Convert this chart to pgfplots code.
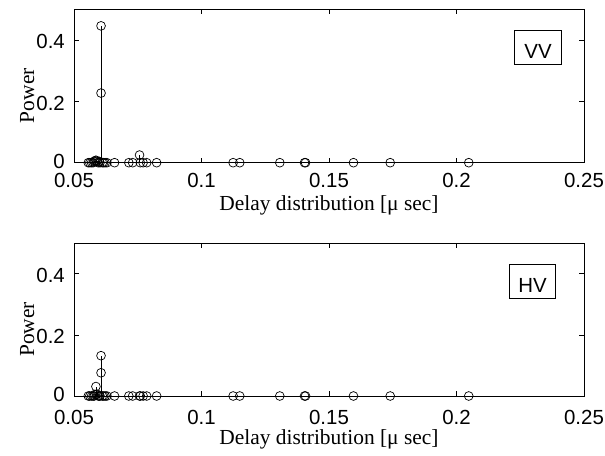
\documentclass[border=0pt]{standalone}
\usepackage{pgfplots}
\pgfplotsset{compat=1.18}
\usepackage{pgfplotstable}
\usepackage{fontspec}
\setmainfont{Liberation Serif}
\setsansfont{Liberation Sans}

% delay [mu s], power of the VV and HV channels
\pgfplotstableread{
x       vv      hv
0.0556  0       0
0.0562  0       0
0.0569  0       0
0.0575  0       0
0.0579  0.004   0
0.0582  0.006   0.005
0.0586  0.008   0.031
0.0590  0.005   0.006
0.0595  0       0
0.0599  0.004   0
0.0602  0       0
0.0606  0.227   0.076
0.0606  0.446   0.132
0.0611  0       0
0.0616  0       0
0.0622  0       0
0.0629  0       0
0.0659  0       0
0.0715  0       0
0.0730  0       0
0.0757  0.025   0
0.0760  0       0
0.0771  0       0
0.0785  0       0
0.0824  0       0
0.1124  0       0
0.1150  0       0
0.1307  0       0
0.1404  0       0
0.1408  0       0
0.1596  0       0
0.1740  0       0
0.2048  0       0
}\delays

\tikzset{
  tagbox/.style={draw, line width=0.7bp, font=\sffamily\fontsize{20.5}{24}\selectfont,
    inner xsep=0pt, inner ysep=5.7bp, text height=22.6bp, text depth=0pt,
    minimum width=46.7bp, anchor=center},
}

\pgfplotsset{
  stemaxis/.style={
    scale only axis, width=510bp,
    xmin=0.05, xmax=0.25, ymin=0, ymax=0.5,
    xtick={0.05,0.1,0.15,0.2,0.25},
    xticklabels={0.05,0.1,0.15,0.2,0.25},
    ytick={0,0.2,0.4},
    yticklabels={\smash{\raisebox{-4bp}{0}},0.2,0.4},
    tick align=inside,
    major tick length=5bp,
    axis line style={line width=0.9bp},
    every tick/.style={line width=0.8bp, black},
    clip=false,
    /pgf/number format/assume math mode=true,
    ticklabel style={font=\sffamily\fontsize{20.5}{24}\selectfont, inner sep=0pt},
    yticklabel style={anchor=east, xshift=-9bp, yshift=-1.7bp},
    label style={font=\fontsize{21.5}{26}\selectfont},
    xlabel={Delay distribution [μ sec]},
    ylabel={Power},
    xlabel style={at={(axis description cs:0.5,0)}, anchor=base, yshift=-48bp},
    ylabel style={at={(axis description cs:0,0.437)}, anchor=base, yshift=40bp},
  },
  stemplot/.style={black, line width=0.7bp, ycomb, mark=o,
    mark size=4.4bp, mark options={line width=0.7bp, fill=none}},
}

\begin{document}
\begin{tikzpicture}
\useasboundingbox (0,0) rectangle (605bp,456bp);

\begin{axis}[stemaxis, height=153.4bp,
    at={(74bp,293.3bp)}, anchor=south west,
    xticklabel style={anchor=north, yshift=-10.6bp}]
  \addplot[stemplot] table[x=x, y=vv] {\delays};
  \node[tagbox] at (rel axis cs:0.910,0.754) {VV};
\end{axis}

\begin{axis}[stemaxis, height=152.7bp,
    at={(74bp,60bp)}, anchor=south west,
    xticklabel style={anchor=north, yshift=-14bp}]
  \addplot[stemplot] table[x=x, y=hv] {\delays};
  \node[tagbox] at (rel axis cs:0.899,0.751) {HV};
\end{axis}
\end{tikzpicture}
\end{document}
